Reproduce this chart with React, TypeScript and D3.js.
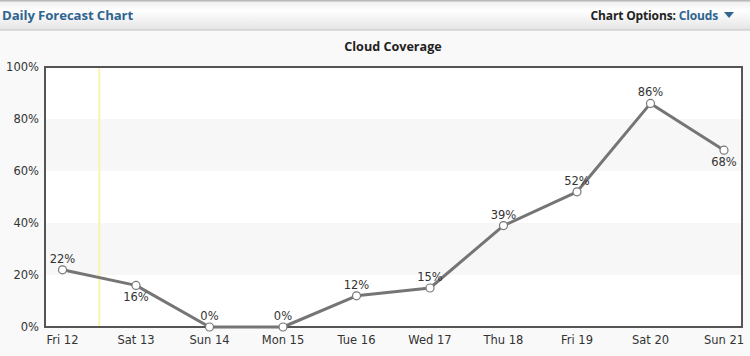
import React from "react";
import * as d3 from "d3";

const days = ["Fri 12", "Sat 13", "Sun 14", "Mon 15", "Tue 16", "Wed 17", "Thu 18", "Fri 19", "Sat 20", "Sun 21"];
const cloudValues = [22, 16, 0, 0, 12, 15, 39, 52, 86, 68];
const labelBelow = [false, true, false, false, false, false, false, false, false, true];
const yTicks = [0, 20, 40, 60, 80, 100];
const stripeBands = [[20, 40], [60, 80]];
const nowIndex = 0.5;

const W = 750;
const H = 356;
const plot = { left: 45, top: 67, right: 742, bottom: 327 };
const font = "Verdana, 'DejaVu Sans', sans-serif";

export default function App() {
  const x = d3.scaleLinear().domain([0, days.length - 1]).range([plot.left + 17.5, plot.right - 18]);
  const y = d3.scaleLinear().domain([0, 100]).range([plot.bottom, plot.top]);
  const line = d3.line<number>().x((_, i) => x(i)).y((d) => y(d));

  return (
    <svg width={W} height={H} style={{ position: "absolute", left: 0, top: 0, display: "block" }}>
      <defs>
        <linearGradient id="hdr" x1="0" y1="0" x2="0" y2="1">
          <stop offset="0" stopColor="#ececec" />
          <stop offset="0.35" stopColor="#ffffff" />
          <stop offset="1" stopColor="#e4e4e4" />
        </linearGradient>
      </defs>
      <rect x={0} y={0} width={W} height={H} fill="#f9f9f9" />
      <rect x={0} y={0} width={W} height={30} fill="url(#hdr)" />
      <rect x={0} y={0} width={W} height={1.5} fill="#b8b8b8" />
      <rect x={0} y={29.5} width={W} height={1} fill="#c4c4c4" />
      <text x={2} y={20} fontFamily="'Open Sans', sans-serif" fontWeight={700} fontSize={13.2} fill="#2f6590" letterSpacing={-0.1}>
        Daily Forecast Chart
      </text>
      <text x={718} y={20} textAnchor="end" fontFamily="'Open Sans', sans-serif" fontWeight={700} fontSize={12} letterSpacing={-0.15}>
        <tspan fill="#222">Chart Options: </tspan>
        <tspan fill="#2f6590">Clouds</tspan>
      </text>
      <path d="M724,12 L734,12 L729,18 Z" fill="#2f6590" />
      <text x={393} y={51} textAnchor="middle" fontFamily="'Open Sans', sans-serif" fontWeight={700} fontSize={12.6} fill="#222">
        Cloud Coverage
      </text>

      <rect x={plot.left} y={plot.top} width={plot.right - plot.left} height={plot.bottom - plot.top} fill="#ffffff" />
      {stripeBands.map(([a, b]) => (
        <rect key={a} x={plot.left} y={y(b)} width={plot.right - plot.left} height={y(a) - y(b)} fill="#f7f7f7" />
      ))}
      <line x1={x(nowIndex)} x2={x(nowIndex)} y1={plot.top} y2={plot.bottom} stroke="#fdf3b0" strokeWidth={2} />
      <rect x={plot.left} y={plot.top} width={plot.right - plot.left} height={plot.bottom - plot.top} fill="none" stroke="#555" strokeWidth={2} />

      {yTicks.map((t) => (
        <text key={t} x={39} y={y(t) + 4} textAnchor="end" fontFamily={font} fontSize={11.5} fill="#333">
          {t}%
        </text>
      ))}
      {days.map((d, i) => (
        <text key={d} x={x(i)} y={344} textAnchor="middle" fontFamily={font} fontSize={11.5} fill="#333">
          {d}
        </text>
      ))}

      <path d={line(cloudValues) || ""} fill="none" stroke="#757575" strokeWidth={3} strokeLinejoin="round" />
      {cloudValues.map((v, i) => (
        <circle key={i} cx={x(i)} cy={y(v)} r={4} fill="#fff" stroke="#777" strokeWidth={1.2} />
      ))}
      {cloudValues.map((v, i) => (
        <text key={"l" + i} x={x(i)} y={labelBelow[i] ? y(v) + 16 : y(v) - 7} textAnchor="middle" fontFamily={font} fontSize={11.5} fill="#333">
          {v}%
        </text>
      ))}
    </svg>
  );
}
